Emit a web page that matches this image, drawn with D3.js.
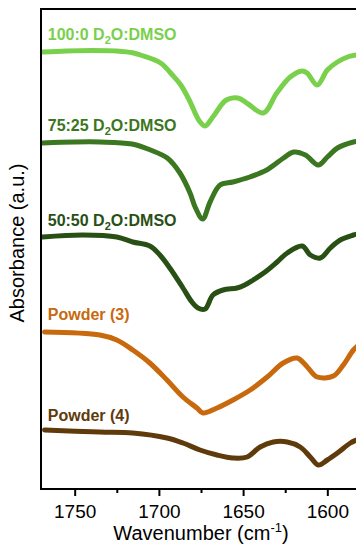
<!DOCTYPE html>
<html>
<head>
<meta charset="utf-8">
<script src="https://cdn.jsdelivr.net/npm/d3@7"></script>
<style>
  html, body { margin: 0; padding: 0; background: #fff; }
  svg { display: block; }
  text { font-family: Arial, "Liberation Sans", sans-serif; }
</style>
</head>
<body>
<svg id="chart" width="356" height="545"></svg>
<script>
// FTIR spectra, amide I region, stacked with vertical offsets (a.u.)
const seriesNames = ["100:0", "75:25", "50:50", "Powder (3)", "Powder (4)"];
const seriesColors = ["#79d04b", "#3b7620", "#284f14", "#c8690e", "#5f3b0c"];

const wn100 = [1769, 1755, 1740, 1725, 1715, 1711, 1699, 1692, 1687, 1682, 1676, 1672.6, 1668, 1660, 1653, 1647, 1638, 1630, 1622, 1615, 1612, 1606, 1600, 1594, 1588, 1583, 1580];
const abs100 = [43.7, 43.8, 43.85, 43.8, 43.6, 43.4, 42.6, 41.4, 40.4, 38.9, 36.8, 36.3, 37.2, 38.9, 39.1, 38.5, 37.6, 39.6, 41.2, 41.8, 41.6, 40.4, 41.9, 42.7, 43.2, 43.4, 43.5];

const wn75 = [1769, 1750, 1735, 1716, 1705, 1695, 1687.5, 1681.5, 1678.5, 1674, 1669.6, 1663.7, 1656, 1646, 1636, 1626, 1620, 1613, 1605.4, 1600, 1594, 1584.5, 1580];
const abs75 = [34.6, 34.7, 34.7, 34.5, 33.9, 33.1, 31.6, 29.6, 28.2, 27.0, 28.7, 30.4, 30.7, 31.2, 31.9, 33.1, 33.7, 33.4, 32.4, 33.2, 34.1, 34.7, 34.8];

const wn50 = [1769, 1745.2, 1725, 1715.5, 1705.4, 1699.4, 1693.5, 1685.7, 1680.4, 1676.8, 1672.6, 1667.9, 1661.9, 1653.6, 1649, 1644, 1636.9, 1629.8, 1623.8, 1614.9, 1610.1, 1604.2, 1598.2, 1592.3, 1584.5, 1580];
const abs50 = [25.2, 25.4, 25.2, 24.7, 24.3, 23.4, 22.1, 20.1, 18.7, 18.1, 18.0, 19.4, 19.9, 20.1, 20.4, 20.9, 21.7, 22.7, 23.6, 24.3, 23.4, 23.1, 24.1, 24.9, 25.4, 25.6];

const wnP3 = [1767.9, 1735.1, 1725, 1715.5, 1705.4, 1695.2, 1685.7, 1677.4, 1673.8, 1665.5, 1656, 1645.8, 1635.7, 1626.2, 1617.9, 1611.9, 1606, 1596.4, 1590.5, 1584.5, 1580];
const absP3 = [15.7, 15.4, 14.9, 13.9, 12.6, 10.9, 9.2, 8.1, 7.6, 8.1, 8.9, 9.9, 11.2, 12.6, 13.1, 12.2, 11.2, 11.3, 12.4, 13.9, 14.6];

const wnP4 = [1767.9, 1735.1, 1715.5, 1695.2, 1685.7, 1675.6, 1665.5, 1656, 1647.6, 1639.9, 1632.1, 1623.8, 1616.1, 1610.1, 1605.4, 1600, 1594, 1586.3, 1582.7, 1580];
const absP4 = [5.9, 5.7, 5.6, 5.1, 4.6, 3.9, 3.4, 3.1, 3.2, 4.2, 4.7, 4.7, 4.2, 3.2, 2.4, 2.9, 3.6, 4.6, 4.9, 5.1];

const wnSets = [wn100, wn75, wn50, wnP3, wnP4];
const absSets = [abs100, abs75, abs50, absP3, absP4];

// label anchor: wavenumber and absorbance of each label's baseline
const labelWn = [1766, 1766, 1766, 1766, 1766];
const labelAbs = [44.9, 35.8, 26.3, 16.9, 6.85];

const majorTicks = [1750, 1700, 1650, 1600];
const minorTicks = [1725, 1675, 1625];

const svg = d3.select("#chart");
const plotLeft = 41, plotRight = 361, plotTop = 9, plotBottom = 489;

const x = d3.scaleLinear().domain([1770, 1580]).range([plotLeft, plotRight]);
const y = d3.scaleLinear().domain([0, 48]).range([plotBottom, plotTop]);

svg.append("defs").append("clipPath").attr("id", "plotClip")
  .append("rect").attr("x", plotLeft).attr("y", plotTop)
  .attr("width", plotRight - plotLeft).attr("height", plotBottom - plotTop);

const line = d3.line()
  .x(d => x(d[0]))
  .y(d => y(d[1]))
  .curve(d3.curveCatmullRom.alpha(0.5));

const plot = svg.append("g").attr("clip-path", "url(#plotClip)");
seriesNames.forEach((name, i) => {
  const pts = wnSets[i].map((w, k) => [w, absSets[i][k]]);
  plot.append("path")
    .datum(pts)
    .attr("fill", "none")
    .attr("stroke", seriesColors[i])
    .attr("stroke-width", 5)
    .attr("stroke-linejoin", "round")
    .attr("stroke-linecap", "round")
    .attr("d", line);
});

// series labels
seriesNames.forEach((name, i) => {
  const t = svg.append("text")
    .attr("x", x(labelWn[i]))
    .attr("y", y(labelAbs[i]))
    .attr("fill", seriesColors[i])
    .attr("font-size", 16)
    .attr("font-weight", "bold");
  if (i < 3) {
    t.append("tspan").text(name + " D");
    t.append("tspan").text("2").attr("font-size", 11).attr("dy", 4);
    t.append("tspan").text("O:DMSO").attr("dy", -4);
  } else {
    t.text(name);
  }
});

// frame
svg.append("rect")
  .attr("x", plotLeft).attr("y", plotTop)
  .attr("width", plotRight - plotLeft).attr("height", plotBottom - plotTop)
  .attr("fill", "none").attr("stroke", "#000").attr("stroke-width", 2);

// x axis
const xAxis = d3.axisBottom(x).tickValues(majorTicks).tickSize(7).tickPadding(9).tickFormat(d3.format("d"));
const gx = svg.append("g").attr("transform", `translate(0,${plotBottom})`).call(xAxis);
gx.select(".domain").remove();
gx.selectAll(".tick line").attr("stroke", "#000").attr("stroke-width", 2);
gx.selectAll(".tick text").attr("font-size", 19).attr("fill", "#000").attr("font-family", "Arial, 'Liberation Sans', sans-serif");

const xMinor = d3.axisBottom(x).tickValues(minorTicks).tickSize(4).tickFormat("");
const gm = svg.append("g").attr("transform", `translate(0,${plotBottom})`).call(xMinor);
gm.select(".domain").remove();
gm.selectAll(".tick line").attr("stroke", "#000").attr("stroke-width", 2);

// axis titles
const xt = svg.append("text")
  .attr("x", (plotLeft + plotRight) / 2)
  .attr("y", 540)
  .attr("text-anchor", "middle")
  .attr("font-size", 20)
  .attr("fill", "#000");
xt.append("tspan").text("Wavenumber (cm");
xt.append("tspan").text("-1").attr("font-size", 13).attr("dy", -8);
xt.append("tspan").text(")").attr("dy", 8);

svg.append("text")
  .attr("transform", `translate(24,${243}) rotate(-90)`)
  .attr("text-anchor", "middle")
  .attr("font-size", 20)
  .attr("fill", "#000")
  .text("Absorbance (a.u.)");
</script>
</body>
</html>
